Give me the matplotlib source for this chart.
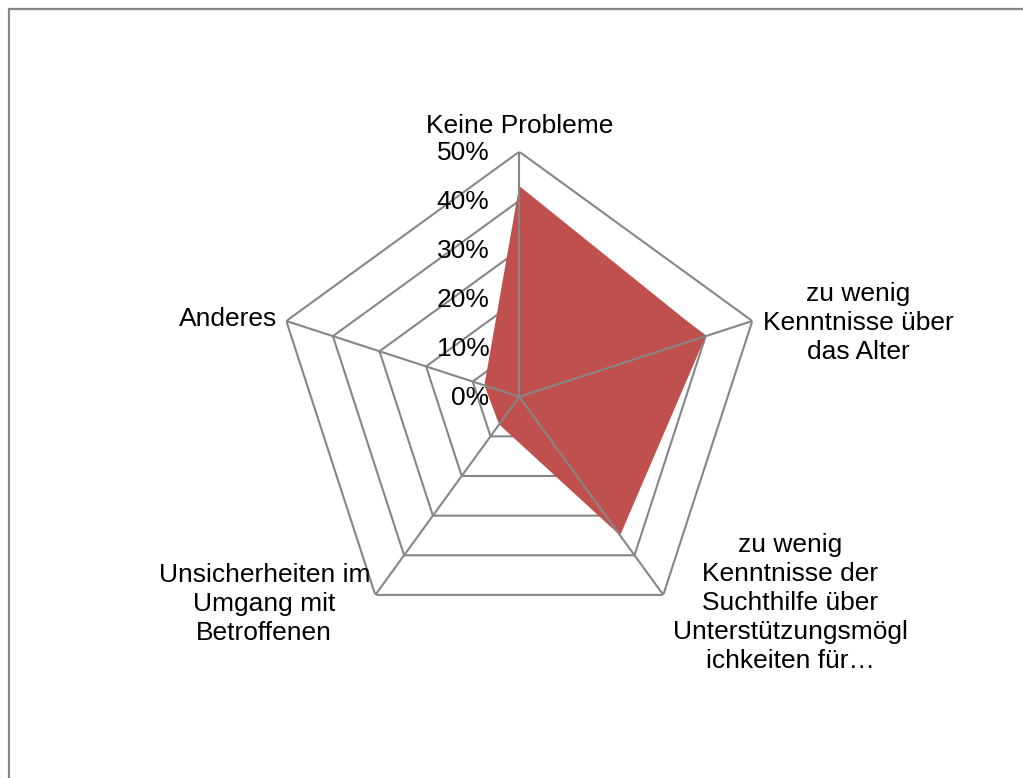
import numpy as np
import matplotlib
matplotlib.use("Agg")
import matplotlib.pyplot as plt
from matplotlib.patches import Rectangle

plt.rcParams['font.family'] = ['Liberation Sans', 'DejaVu Sans']

# --- data ---
categories = [
    "Keine Probleme",
    "zu wenig\nKenntnisse über\ndas Alter",
    "zu wenig\nKenntnisse der\nSuchthilfe über\nUnterstützungsmögl\nichkeiten für…",
    "Unsicherheiten im\nUmgang mit\nBetroffenen",
    "Anderes",
]
values = [43, 40, 35, 7, 7.5]
levels = [0, 10, 20, 30, 40, 50]
level_labels = ["0%", "10%", "20%", "30%", "40%", "50%"]

grid_col = "#868686"
fill_col = "#C0504D"
fs = 19

W, H = 1023, 778
fig = plt.figure(figsize=(W / 100, H / 100), dpi=100)

# outer frame (only top/left edges visible in the crop)
fig.add_artist(Rectangle((8.5 / W, -0.2), 1.5, 1.2 - 8.5 / H,
                         transform=fig.transFigure, fill=False,
                         edgecolor=grid_col, lw=1.6))

cx, cy, R = 519.3, 396.7, 245
ax = fig.add_axes([(cx - R) / W, (H - cy - R) / H, 2 * R / W, 2 * R / H],
                  projection='polar')
ax.set_theta_offset(np.pi / 2)
ax.set_theta_direction(-1)
ax.set_ylim(0, 50)
ax.grid(False)
ax.spines['polar'].set_visible(False)
ax.set_xticks([])
ax.set_yticks([])
ax.patch.set_alpha(0)

n = len(categories)
angles = np.linspace(0, 2 * np.pi, n, endpoint=False)
closed = np.concatenate([angles, angles[:1]])

# pentagon rings under the fill, spokes on top
for lv in levels[1:]:
    ax.plot(closed, [lv] * (n + 1), color=grid_col, lw=1.5, zorder=1)

vals = np.array(values + values[:1], dtype=float)
ax.fill(closed, vals, color=fill_col, lw=0, zorder=2)

for a in angles:
    ax.plot([a, a], [0, 50], color=grid_col, lw=1.5, zorder=3)

# value labels
for lv, lab in zip(levels, level_labels):
    ax.annotate(lab, xy=(0, lv), xytext=(-30, -1), textcoords='offset pixels',
                ha='right', va='center', fontsize=fs, annotation_clip=False,
                zorder=4)

# category labels
offsets = [(0, 26, 'center'), (106, -2, 'center'), (127, -8, 'center'),
           (-111, -9, 'center'), (-9, 2, 'right')]
for a, lab, (dx, dy, ha) in zip(angles, categories, offsets):
    ax.annotate(lab, xy=(a, 50), xytext=(dx, dy), textcoords='offset pixels',
                ha=ha, va='center', multialignment='center', fontsize=fs,
                linespacing=1.26, annotation_clip=False)

fig.savefig("out.png", dpi=100)
